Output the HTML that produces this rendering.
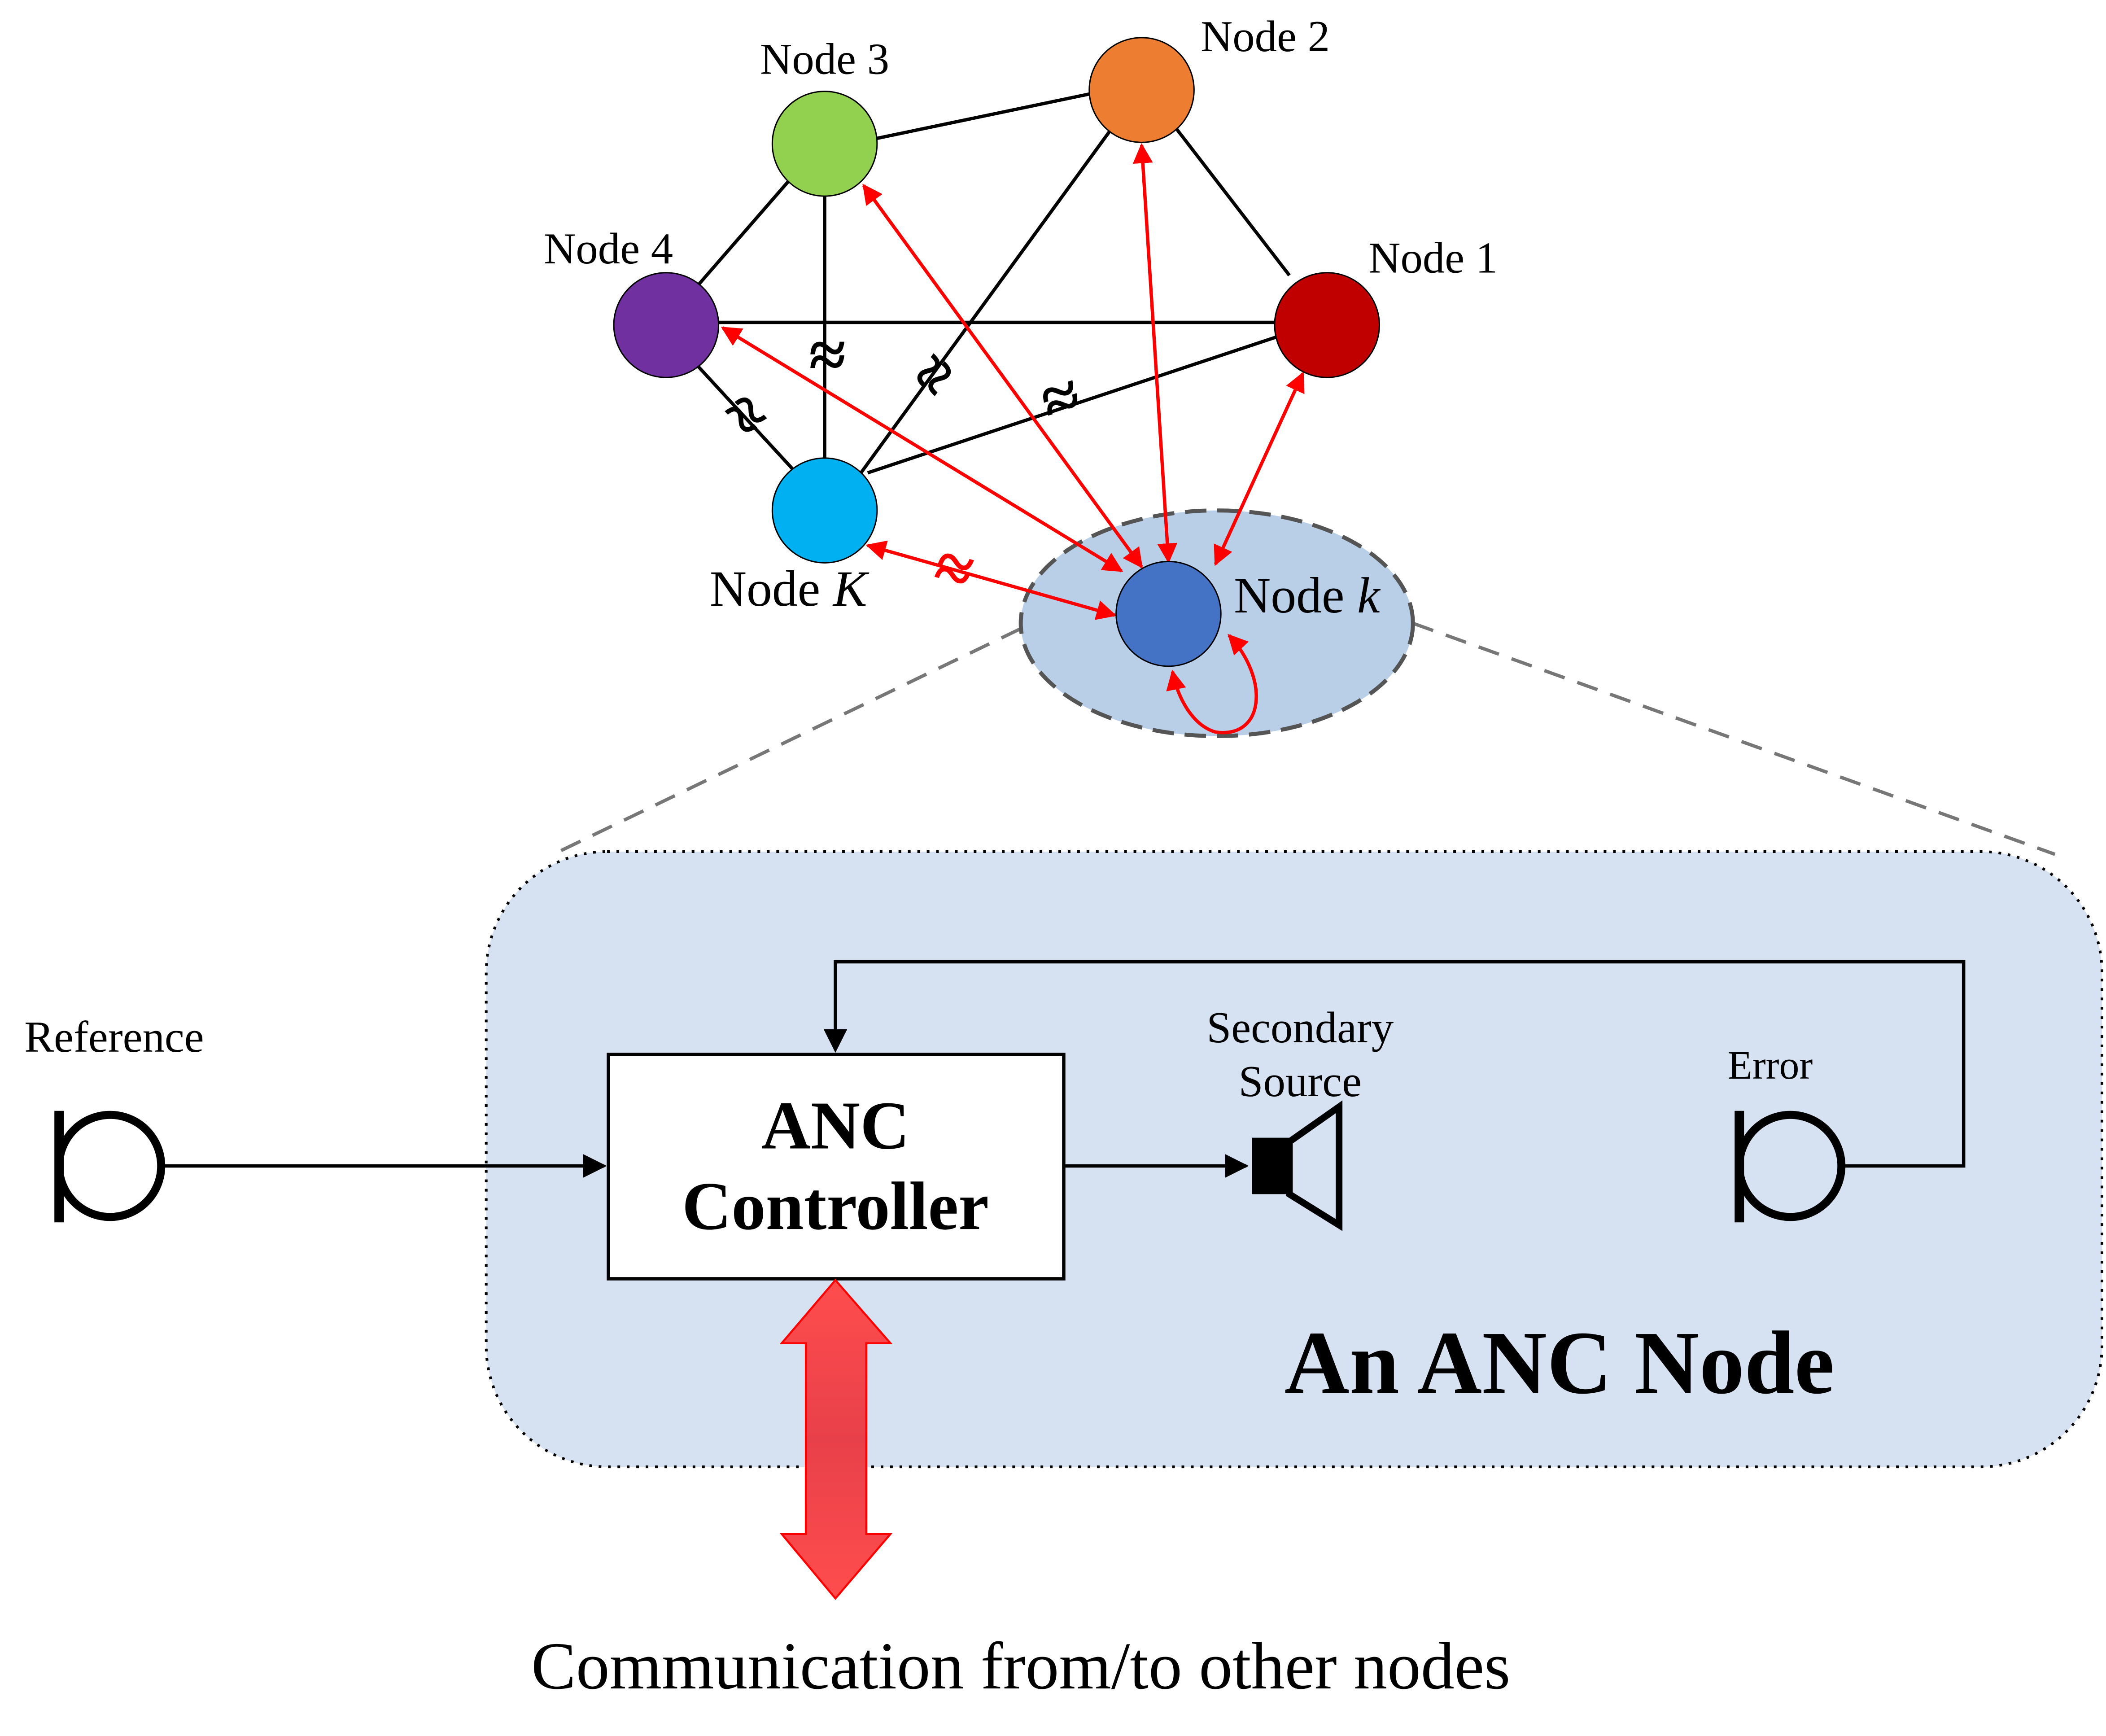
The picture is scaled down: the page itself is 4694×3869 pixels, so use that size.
<!DOCTYPE html>
<html><head><meta charset="utf-8"><style>
html,body{margin:0;padding:0;background:#fff;}
svg{display:block;}
text{font-family:"Liberation Serif",serif;}
</style></head><body>
<svg width="4694" height="3869" viewBox="0 0 1568 1292.4" preserveAspectRatio="none" xmlns="http://www.w3.org/2000/svg">
<defs>
<marker id="ar" viewBox="0 0 10 10" refX="9" refY="5" markerWidth="6" markerHeight="6" orient="auto-start-reverse"><path d="M0,0 L10,5 L0,10 z" fill="#f00"/></marker>
<marker id="ab" viewBox="0 0 10 10" refX="9" refY="5" markerWidth="7" markerHeight="7" orient="auto"><path d="M0,0 L10,5 L0,10 z" fill="#000"/></marker>
<linearGradient id="gr" x1="0" y1="0" x2="0" y2="1"><stop offset="0" stop-color="#ff4d4d"/><stop offset="0.5" stop-color="#e8404a"/><stop offset="1" stop-color="#ff4d4d"/></linearGradient>
</defs>
<line x1="760" y1="468" x2="412" y2="636" stroke="#777" stroke-width="2.5" stroke-dasharray="16,10"/>
<line x1="1052" y1="464" x2="1530" y2="636" stroke="#777" stroke-width="2.5" stroke-dasharray="16,10"/>
<rect x="362" y="634" width="1203" height="458" rx="90" fill="#d6e2f1" stroke="#000" stroke-width="2" stroke-dasharray="2,5"/>
<ellipse cx="906" cy="464" rx="146" ry="84" fill="#b9cfe8" stroke="#555" stroke-width="3" stroke-dasharray="16,8"/>
<g stroke="#000" stroke-width="2.5">
<line x1="653" y1="103" x2="811" y2="70"/>
<line x1="587" y1="135" x2="520" y2="212"/>
<line x1="614" y1="146" x2="614" y2="341"/>
<line x1="876" y1="96" x2="960" y2="205"/>
<line x1="826" y1="98" x2="641" y2="352"/>
<line x1="535" y1="240" x2="949" y2="240"/>
<line x1="520" y1="273" x2="590" y2="349"/>
<line x1="646" y1="352" x2="950" y2="251"/>
</g>
<g font-size="50" font-weight="bold" text-anchor="middle" fill="#000">
<text x="616" y="281">≈</text>
<text x="697" y="295" transform="rotate(-54 697 280)">≈</text>
<text x="790" y="313" transform="rotate(-18 790 298)">≈</text>
<text x="554" y="325" transform="rotate(47 554 310)">≈</text>
<text x="710" y="440" fill="#f00" transform="rotate(15 710 425)">≈</text>
</g>
<g stroke="#f00" stroke-width="2.5" fill="none" marker-start="url(#ar)" marker-end="url(#ar)">
<line x1="850" y1="422" x2="643" y2="138"/>
<line x1="870" y1="418" x2="850" y2="108"/>
<line x1="905" y1="420" x2="970" y2="278"/>
<line x1="835" y1="425" x2="538" y2="244"/>
<line x1="830" y1="458" x2="646" y2="406"/>
<path d="M915 473 C945 505 942 550 905 545 C888 540 877 520 873 500"/>
</g>
<g stroke="#000" stroke-width="1">
<circle cx="614" cy="107" r="39" fill="#92d050"/>
<circle cx="850" cy="67" r="39" fill="#ed7d31"/>
<circle cx="988" cy="242" r="39" fill="#c00000"/>
<circle cx="496" cy="242" r="39" fill="#7030a0"/>
<circle cx="614" cy="380" r="39" fill="#00b0f0"/>
<circle cx="870" cy="457" r="39" fill="#4472c4"/>
</g>
<g font-size="33" fill="#000">
<text x="614" y="55" text-anchor="middle">Node 3</text>
<text x="942" y="38" text-anchor="middle">Node 2</text>
<text x="1067" y="203" text-anchor="middle">Node 1</text>
<text x="453" y="196" text-anchor="middle">Node 4</text>
<text x="587" y="451" text-anchor="middle" font-size="38">Node <tspan font-style="italic">K</tspan></text>
<text x="973" y="456" text-anchor="middle" font-size="38">Node <tspan font-style="italic">k</tspan></text>
</g>
<rect x="453" y="785" width="339" height="167" fill="#fff" stroke="#000" stroke-width="2.5"/>
<text x="622" y="855" font-size="51" font-weight="bold" text-anchor="middle">ANC</text>
<text x="622" y="915" font-size="51" font-weight="bold" text-anchor="middle">Controller</text>
<line x1="44" y1="827" x2="44" y2="910" stroke="#000" stroke-width="7"/>
<circle cx="82" cy="868" r="38" fill="none" stroke="#000" stroke-width="6"/>
<line x1="122" y1="868" x2="450" y2="868" stroke="#000" stroke-width="2.5" marker-end="url(#ab)"/>
<text x="85" y="783" font-size="33" text-anchor="middle">Reference</text>
<line x1="792" y1="868" x2="928" y2="868" stroke="#000" stroke-width="2.5" marker-end="url(#ab)"/>
<rect x="932" y="847" width="28" height="42" fill="#000"/>
<polygon points="960,850 997,824 997,912 960,889" fill="none" stroke="#000" stroke-width="5"/>
<text x="968" y="776" font-size="33" text-anchor="middle">Secondary</text>
<text x="968" y="816" font-size="33" text-anchor="middle">Source</text>
<line x1="1295" y1="827" x2="1295" y2="910" stroke="#000" stroke-width="7"/>
<circle cx="1333" cy="868" r="38" fill="none" stroke="#000" stroke-width="6"/>
<polyline points="1373,868 1462,868 1462,716 622,716 622,782" fill="none" stroke="#000" stroke-width="2.5" marker-end="url(#ab)"/>
<text x="1318" y="803" font-size="30" text-anchor="middle">Error</text>
<text x="1161" y="1037" font-size="67" font-weight="bold" text-anchor="middle">An ANC Node</text>
<polygon points="622,953 663,1000 645,1000 645,1142 663,1142 622,1190 582,1142 600,1142 600,1000 582,1000" fill="url(#gr)" stroke="#f00" stroke-width="1.5"/>
<text x="760" y="1257" font-size="50" text-anchor="middle">Communication from/to other nodes</text>
</svg>
</body></html>
